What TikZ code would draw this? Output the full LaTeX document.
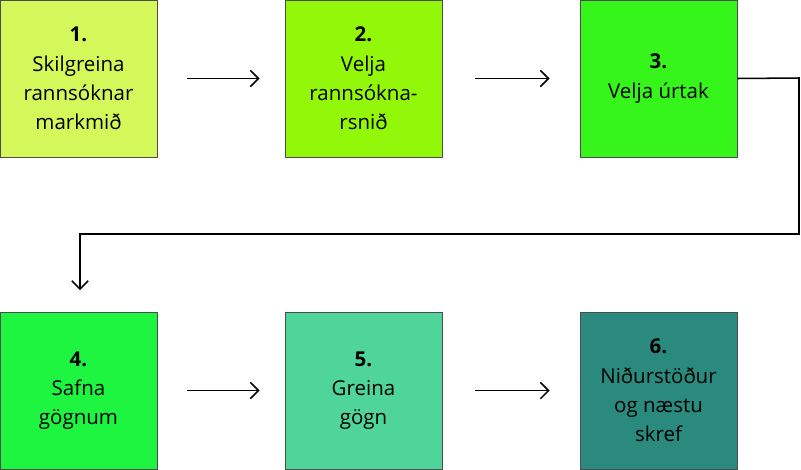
\documentclass[tikz,border=0pt]{standalone}
\usepackage{fontspec}
\setmainfont{Open Sans}
\usetikzlibrary{arrows.meta}
\definecolor{cOne}{HTML}{D4F85A}
\definecolor{cTwo}{HTML}{93F70A}
\definecolor{cThree}{HTML}{35F51A}
\definecolor{cFour}{HTML}{1DF540}
\definecolor{cFive}{HTML}{4FD499}
\definecolor{cSix}{HTML}{2A8A7E}
\tikzset{
  stage/.style = {draw=black!70, line width=0.6pt, minimum width=4.71cm, minimum height=4.71cm,
                 inner sep=0pt, align=center, font=\fontsize{17.5}{25}\selectfont},
  flow/.style = {black, line width=1.3pt, -{Straight Barb[length=7pt,width=14pt]}}
}
\begin{document}
\begin{tikzpicture}[x=0.03cm, y=-0.03cm]
            \useasboundingbox (0,0) rectangle (801,469);
            \node[stage, fill=cOne]   (s1) at (78.5,78.5)  {\textbf{1.}\\Skilgreina\\rannsóknar\\markmið};
            \node[stage, fill=cTwo]   (s2) at (363.5,78.5) {\textbf{2.}\\Velja\\rannsókna-\\rsnið};
            \node[stage, fill=cThree] (s3) at (658.5,78.5) {\textbf{3.}\\Velja úrtak};
            \node[stage, fill=cFour]  (s4) at (78.5,390.5)  {\textbf{4.}\\Safna\\gögnum};
            \node[stage, fill=cFive]  (s5) at (363.5,390.5) {\textbf{5.}\\Greina\\gögn};
            \node[stage, fill=cSix]   (s6) at (658.5,390.5) {\textbf{6.}\\Niðurstöður\\og næstu\\skref};

            \coordinate (t1) at (799,78);
            \coordinate (t2) at (799,234);
            \coordinate (t3) at (80,234);
            \coordinate (t4) at (80,290);

            \draw[flow, shorten <=30*0.03cm, shorten >=25*0.03cm] (s1) -- (s2);
            \draw[flow, shorten <=33*0.03cm, shorten >=30*0.03cm] (s2) -- (s3);
            \draw[flow, shorten <=30*0.03cm, shorten >=25*0.03cm] (s4) -- (s5);
            \draw[flow, shorten <=33*0.03cm, shorten >=30*0.03cm] (s5) -- (s6);
            \draw[flow] (s3.east) -- (t1) -- (t2) -- (t3) -- (t4);
        \end{tikzpicture}
\end{document}
